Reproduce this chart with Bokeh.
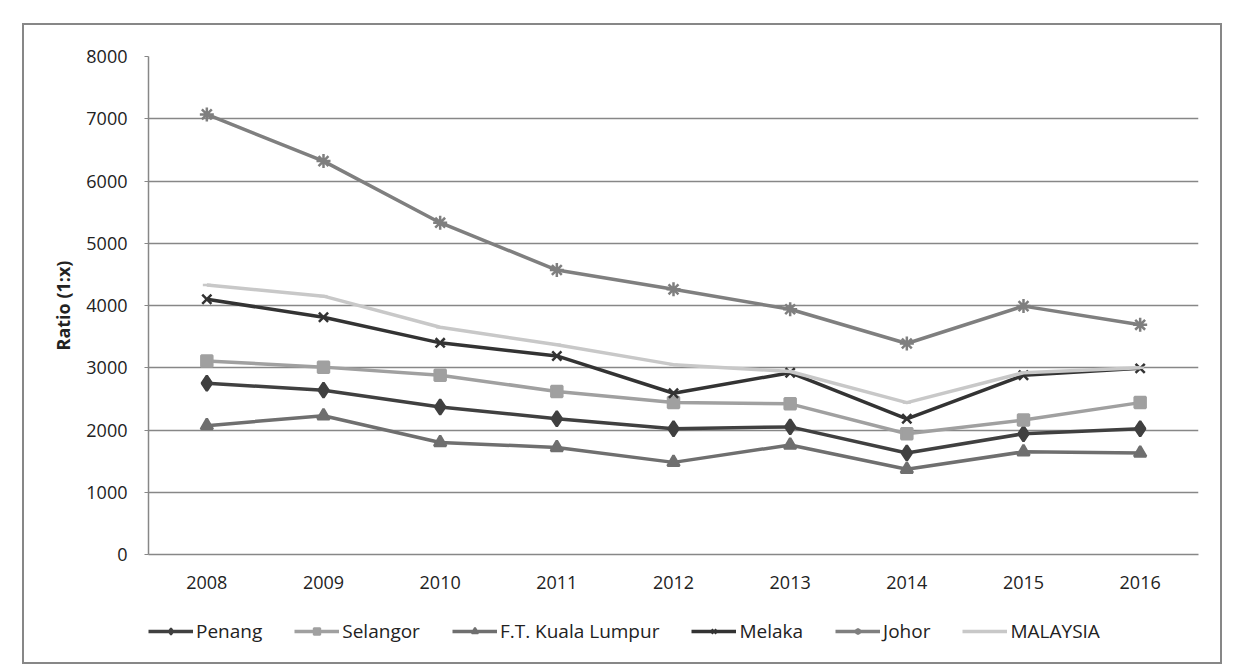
from bokeh.plotting import figure
from bokeh.models import Range1d, Legend, FixedTicker
from bokeh.layouts import column
from bokeh.embed import file_html
from bokeh.resources import INLINE

years = [2008, 2009, 2010, 2011, 2012, 2013, 2014, 2015, 2016]
penang = [2750, 2640, 2370, 2180, 2020, 2050, 1630, 1940, 2020]
selangor = [3110, 3010, 2880, 2620, 2440, 2420, 1940, 2160, 2440]
kuala_lumpur = [2070, 2230, 1800, 1720, 1480, 1760, 1370, 1650, 1630]
melaka = [4100, 3810, 3400, 3190, 2590, 2920, 2180, 2880, 2990]
johor = [7070, 6320, 5330, 4570, 4260, 3940, 3390, 3990, 3690]
malaysia = [4330, 4150, 3650, 3370, 3050, 2940, 2440, 2920, 3000]
y_ticks = [0, 1000, 2000, 3000, 4000, 5000, 6000, 7000, 8000]

FONT = "Open Sans"

p = figure(width=1196, height=575, output_backend="svg", toolbar_location=None,
           x_range=Range1d(2007.5, 2016.5), y_range=Range1d(0, 8000),
           min_border_left=124, min_border_right=22, min_border_top=31, min_border_bottom=46)
p.outline_line_color = None
p.background_fill_color = "white"

p.xgrid.grid_line_color = None
p.ygrid.grid_line_color = "#878787"
p.ygrid.grid_line_width = 1.5
p.ygrid.ticker = FixedTicker(ticks=y_ticks)

p.yaxis.ticker = FixedTicker(ticks=y_ticks)
p.yaxis.axis_line_color = "#878787"
p.yaxis.axis_line_width = 1.5
p.yaxis.major_tick_line_color = "#878787"
p.yaxis.major_tick_out = 4
p.yaxis.major_tick_in = 0
p.yaxis.minor_tick_line_color = None
p.yaxis.major_label_standoff = 17
p.yaxis.major_label_text_font = FONT
p.yaxis.major_label_text_font_size = "18px"
p.yaxis.major_label_text_color = "#222222"
p.yaxis.axis_label = "Ratio (1:x)"
p.yaxis.axis_label_text_font = FONT
p.yaxis.axis_label_text_font_style = "bold"
p.yaxis.axis_label_text_font_size = "18px"
p.yaxis.axis_label_standoff = 8
p.yaxis.axis_label_text_color = "#222222"

p.xaxis.ticker = FixedTicker(ticks=years)
p.xaxis.axis_line_color = "#878787"
p.xaxis.axis_line_width = 1.5
p.xaxis.major_tick_line_color = None
p.xaxis.minor_tick_line_color = None
p.xaxis.major_label_standoff = 15
p.xaxis.major_label_text_font = FONT
p.xaxis.major_label_text_font_size = "18px"
p.xaxis.major_label_text_color = "#222222"

series = [
    ("Penang", penang, "#404040", "diamond", 15),
    ("Selangor", selangor, "#a0a0a0", "square", 11),
    ("F.T. Kuala Lumpur", kuala_lumpur, "#6f6f6f", "triangle", 12),
    ("Melaka", melaka, "#333333", "x", 13),
    ("Johor", johor, "#7f7f7f", "asterisk", 14),
    ("MALAYSIA", malaysia, "#c8c8c8", "dash", 8),
]

# legend strip as its own small figure (its renderers hold the same data, out of view)
leg = figure(width=1196, height=62, output_backend="svg", toolbar_location=None,
             x_range=Range1d(0, 1), y_range=Range1d(0, 1),
             x_axis_location=None, y_axis_location=None,
             min_border=0)
leg.outline_line_color = None
leg.xgrid.grid_line_color = None
leg.ygrid.grid_line_color = None

items = []
for name, vals, col, mk, sz in series:
    p.line(years, vals, line_color=col, line_width=3.5)
    p.scatter(years, vals, marker=mk, size=sz, fill_color=col, line_color=col, line_width=2.5)
    l1 = leg.line(x=years, y=vals, line_color=col, line_width=3.5)
    l2 = leg.scatter(x=years, y=vals, marker=mk, size=sz, fill_color=col, line_color=col, line_width=2)
    items.append((name, [l1, l2]))

legend = Legend(items=items, orientation="horizontal", location=(0, 18),
                label_text_font=FONT, label_text_font_size="19px", label_text_color="#222222",
                glyph_width=45, glyph_height=16, spacing=32, label_standoff=3,
                border_line_color=None, background_fill_alpha=0, padding=4, margin=0)
leg.add_layout(legend, "center")

layout = column(p, leg, spacing=0)
layout.margin = (23, 0, 0, 22)
layout.styles = {"border": "2px solid #878787"}

open("out.html", "w").write(file_html(layout, INLINE))
